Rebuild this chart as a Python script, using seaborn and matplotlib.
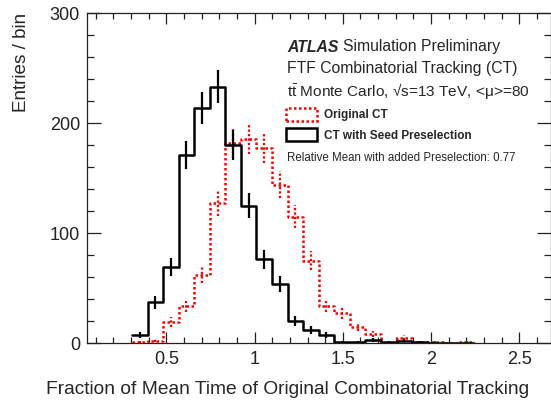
import numpy as np
import pandas as pd
import matplotlib
matplotlib.use("Agg")
import matplotlib.pyplot as plt
from matplotlib.patches import Patch
from matplotlib.ticker import MultipleLocator
import seaborn as sns

# bin edges (first edge + constant width)
first_edge = 0.305
bin_width = 0.0882
n_bins = 22
edges = first_edge + bin_width * np.arange(n_bins + 1)
centers = 0.5 * (edges[:-1] + edges[1:])

# entries per bin
original_ct = [1, 2, 19, 34, 62, 127, 182, 185, 177, 144, 115, 75,
               34, 27, 15, 8, 0, 5, 1, 1, 0, 1]
seed_presel = [7, 37, 69, 171, 214, 233, 180, 125, 76, 54, 20, 12,
               7, 1, 1, 3, 1, 2, 1, 0, 0, 0]

sns.set_style("ticks")
plt.rcParams['font.family'] = ['Liberation Sans', 'DejaVu Sans']
plt.rcParams['mathtext.fontset'] = 'custom'
plt.rcParams['mathtext.rm'] = 'Liberation Sans'
plt.rcParams['mathtext.it'] = 'Liberation Sans:italic'

W, H = 551, 401
fig = plt.figure(figsize=(W / 100, H / 100), dpi=100)
ax = fig.add_axes([87 / W, 1 - 343 / H, (W - 87) / W, (343 - 13) / H])


def draw(vals, color, ls):
    df = pd.DataFrame({"x": centers, "n": np.asarray(vals, dtype=float)})
    sns.histplot(data=df, x="x", weights="n", bins=list(edges), element="step",
                 fill=False, color=color, linestyle=ls, linewidth=1.8, ax=ax)
    # poisson error bars
    d = df[df["n"] > 0]
    err = np.sqrt(d["n"])
    ax.vlines(d["x"], d["n"] - err, d["n"] + err, colors=color,
              linestyles=[ls], linewidth=1.6)


draw(original_ct, "red", (0, (1, 1)))
draw(seed_presel, "black", "-")

ax.set_xlim(0.05, 2.68)
ax.set_ylim(0, 300)
ax.xaxis.set_major_locator(MultipleLocator(0.5))
ax.xaxis.set_minor_locator(MultipleLocator(0.1))
ax.yaxis.set_major_locator(MultipleLocator(100))
ax.yaxis.set_minor_locator(MultipleLocator(20))
ax.set_xticks([0.5, 1, 1.5, 2, 2.5], ["0.5", "1", "1.5", "2", "2.5"])
ax.tick_params(axis="both", which="both", direction="in", top=True, right=True,
               labelsize=13, colors="#222222", width=0.9)
ax.tick_params(axis="x", which="major", length=7.7, pad=6)
ax.tick_params(axis="x", which="minor", length=4.1)
ax.tick_params(axis="y", which="major", length=10, pad=5)
ax.tick_params(axis="y", which="minor", length=5)
for s in ax.spines.values():
    s.set_color("#222222")
    s.set_linewidth(0.9)

ax.set_xlabel("Fraction of Mean Time of Original Combinatorial Tracking",
              fontsize=13.8, loc="right")
ax.xaxis.set_label_coords((529 - 87) / (W - 87), -(381 - 343) / (343 - 13))
ax.set_ylabel("Entries / bin", fontsize=13.6, loc="top")
ax.yaxis.set_label_coords(-(87 - 30) / (W - 87), 1.0)

# annotation block
fx = 287 / W
fig.text(fx, 1 - 47 / H, "ATLAS", fontsize=11.3, fontweight="bold",
         fontstyle="italic", va="center")
fig.text(fx + 56 / W, 1 - 47 / H, "Simulation Preliminary", fontsize=11.3,
         va="center")
fig.text(fx, 1 - 69 / H, "FTF Combinatorial Tracking (CT)", fontsize=11.3,
         va="center")
fig.text(fx, 1 - 91 / H,
         r"t$\bar{\mathrm{t}}$ Monte Carlo, √s=13 TeV, <μ>=80",
         fontsize=11.1, va="center")
fig.text(fx, 1 - 158 / H, "Relative Mean with added Preselection: 0.77",
         fontsize=8.3, va="center")

handles = [Patch(facecolor="none", edgecolor="red", linestyle=(0, (1, 1)),
                 linewidth=1.8),
           Patch(facecolor="none", edgecolor="black", linewidth=1.8)]
ax.legend(handles, ["Original CT", "CT with Seed Preselection"],
          loc="upper left", bbox_to_anchor=(286 / W, 1 - 108 / H),
          bbox_transform=fig.transFigure, frameon=False,
          prop={"weight": "bold", "size": 8.5}, handlelength=2.63,
          handleheight=1.27, handletextpad=0.6, labelspacing=0.6,
          borderpad=0, borderaxespad=0)

fig.savefig("out.png", dpi=100)
